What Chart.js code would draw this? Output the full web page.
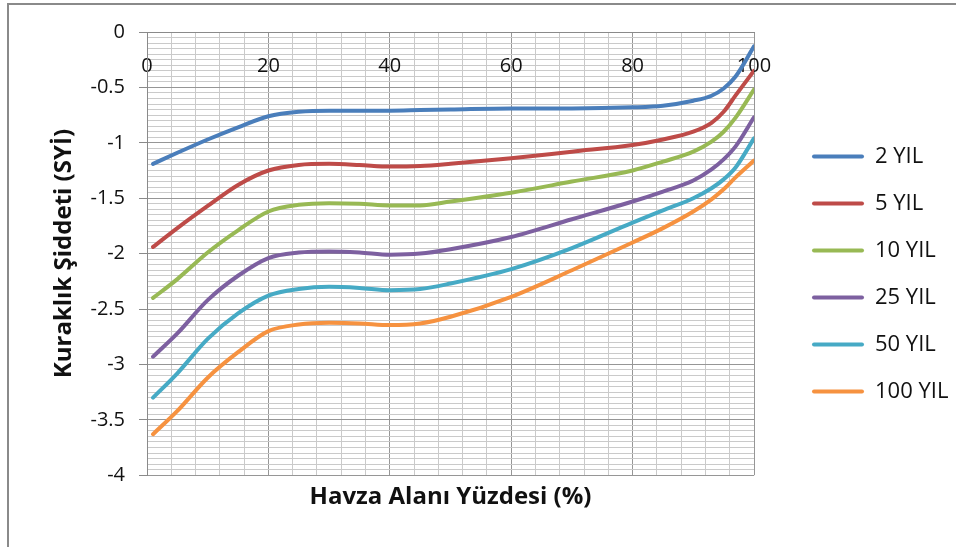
<!DOCTYPE html>
<html lang="tr">

<head>
    <meta charset="UTF-8">
    <title>Kuraklık Şiddeti - Havza Alanı Yüzdesi</title>
    <script src="https://cdn.jsdelivr.net/npm/chart.js"></script>
    <style>
        body { margin: 0; background: #fff; }
        #wrap { position: relative; width: 956px; height: 547px; }
        #frame {
            position: absolute; left: 7px; top: 3px; right: 0; bottom: 0;
            border-left: 2px solid #8a8a8a; border-top: 2px solid #8a8a8a;
            pointer-events: none;
        }
    </style>
</head>

<body>

    <div id="wrap">
        <canvas id="chart" width="956" height="547"></canvas>
        <div id="frame"></div>
    </div>

    <script>
        // x values (% of basin area)
        const xValues = [1, 5, 10, 15, 20, 25, 30, 35, 40, 45, 50, 60, 70, 80, 85, 90, 93, 95, 97, 100];

        const seriesNames = ['2 YIL', '5 YIL', '10 YIL', '25 YIL', '50 YIL', '100 YIL'];
        const seriesColors = ['#4A7EBB', '#BE4B48', '#98B954', '#7D60A0', '#46AAC5', '#F69240'];

        const yil2   = [-1.19, -1.09, -0.97, -0.86, -0.76, -0.72, -0.71, -0.71, -0.71, -0.705, -0.70, -0.69, -0.69, -0.68, -0.665, -0.62, -0.575, -0.51, -0.40, -0.13];
        const yil5   = [-1.94, -1.77, -1.57, -1.38, -1.25, -1.20, -1.19, -1.20, -1.215, -1.21, -1.19, -1.14, -1.08, -1.02, -0.97, -0.90, -0.82, -0.72, -0.57, -0.35];
        const yil10  = [-2.40, -2.23, -1.99, -1.79, -1.62, -1.56, -1.545, -1.55, -1.565, -1.565, -1.53, -1.45, -1.35, -1.25, -1.17, -1.08, -0.99, -0.90, -0.77, -0.52];
        const yil25  = [-2.93, -2.72, -2.42, -2.20, -2.04, -1.99, -1.98, -1.99, -2.01, -2.00, -1.96, -1.85, -1.69, -1.53, -1.44, -1.34, -1.24, -1.15, -1.03, -0.77];
        const yil50  = [-3.30, -3.08, -2.77, -2.54, -2.38, -2.32, -2.30, -2.31, -2.33, -2.32, -2.27, -2.14, -1.95, -1.72, -1.61, -1.50, -1.41, -1.33, -1.22, -0.96];
        const yil100 = [-3.63, -3.42, -3.12, -2.89, -2.70, -2.64, -2.625, -2.63, -2.645, -2.63, -2.57, -2.39, -2.15, -1.90, -1.77, -1.62, -1.51, -1.42, -1.31, -1.16];

        const seriesValues = [yil2, yil5, yil10, yil25, yil50, yil100];

        const FONT = "'Open Sans', 'DejaVu Sans', sans-serif";

        function isMajorY(v) { return Math.abs(v * 2 - Math.round(v * 2)) < 1e-6; }
        function isMajorX(v) { return Math.abs(v / 20 - Math.round(v / 20)) < 1e-6; }

        const datasets = seriesNames.map((name, i) => ({
            label: name,
            data: xValues.map((x, j) => ({ x: x, y: seriesValues[i][j] })),
            borderColor: seriesColors[i],
            backgroundColor: seriesColors[i],
            borderWidth: 4,
            borderCapStyle: 'round',
            pointRadius: 0,
            cubicInterpolationMode: 'monotone',
            fill: false
        }));

        // the legend box is clipped to its own width, which leaves out the label padding;
        // give it a fixed width so the longest label fits
        const legendWidth = {
            id: 'legendWidth',
            afterInit(chart) {
                const lg = chart.legend;
                const fit = lg.fit.bind(lg);
                lg.fit = function () { fit(); this.width = 169; };
            }
        };

        const ctx = document.getElementById('chart').getContext('2d');
        new Chart(ctx, {
            type: 'line',
            data: { datasets: datasets },
            plugins: [legendWidth],
            options: {
                responsive: false,
                animation: false,
                layout: { padding: { left: 46, top: 32, right: 0, bottom: 31 } },
                plugins: {
                    tooltip: { enabled: false },
                    legend: {
                        position: 'right',
                        labels: {
                            boxWidth: 52,
                            boxHeight: 4,
                            padding: 25,
                            color: '#111',
                            font: { family: FONT, size: 22 },
                            useBorderRadius: true,
                            borderRadius: 2,
                            generateLabels: function (chart) {
                                return Chart.defaults.plugins.legend.labels.generateLabels(chart)
                                    .map(l => Object.assign(l, { lineWidth: 0, fillStyle: l.strokeStyle }));
                            }
                        }
                    }
                },
                scales: {
                    x: {
                        type: 'linear',
                        min: 0,
                        max: 100,
                        position: { y: 0 },
                        ticks: {
                            stepSize: 4,
                            autoSkip: false,
                            maxRotation: 0,
                            padding: 22,
                            color: '#111',
                            font: { family: FONT, size: 20 },
                            callback: v => isMajorX(v) ? String(Math.round(v)) : ''
                        },
                        grid: {
                            drawTicks: false,
                            color: c => isMajorX(c.tick.value) ? '#969696' : '#cacaca'
                        },
                        border: { color: '#8a8a8a' }
                    },
                    xTitle: {
                        type: 'linear',
                        min: 0,
                        max: 100,
                        position: 'bottom',
                        grid: { display: false, drawTicks: false },
                        border: { display: false },
                        ticks: { display: false },
                        title: {
                            display: true,
                            text: 'Havza Alanı Yüzdesi (%)',
                            color: '#111',
                            font: { family: FONT, size: 24, weight: 'bold' },
                            padding: { top: 8, bottom: 4 }
                        }
                    },
                    y: {
                        min: -4,
                        max: 0,
                        position: 'left',
                        afterFit: s => { s.width = 101; },
                        ticks: {
                            stepSize: 0.05,
                            autoSkip: false,
                            padding: 14,
                            color: '#111',
                            font: { family: FONT, size: 20 },
                            callback: v => isMajorY(v) ? String(Math.round(v * 2) / 2) : ''
                        },
                        grid: {
                            tickLength: 8,
                            color: c => isMajorY(c.tick.value) ? '#969696' : '#cacaca',
                            tickColor: c => isMajorY(c.tick.value) ? '#8a8a8a' : 'rgba(0,0,0,0)'
                        },
                        border: { color: '#8a8a8a' },
                        title: {
                            display: true,
                            text: 'Kuraklık Şiddeti (SYİ)',
                            color: '#111',
                            font: { family: FONT, size: 24, weight: 'bold' },
                            padding: { top: 4, bottom: 4 }
                        }
                    },
                    yGap: {
                        position: 'right',
                        min: 0,
                        max: 1,
                        grid: { display: false, drawTicks: false },
                        border: { display: false },
                        ticks: { display: false },
                        afterFit: s => { s.width = 33; }
                    }
                }
            }
        });
    </script>

</body>

</html>
